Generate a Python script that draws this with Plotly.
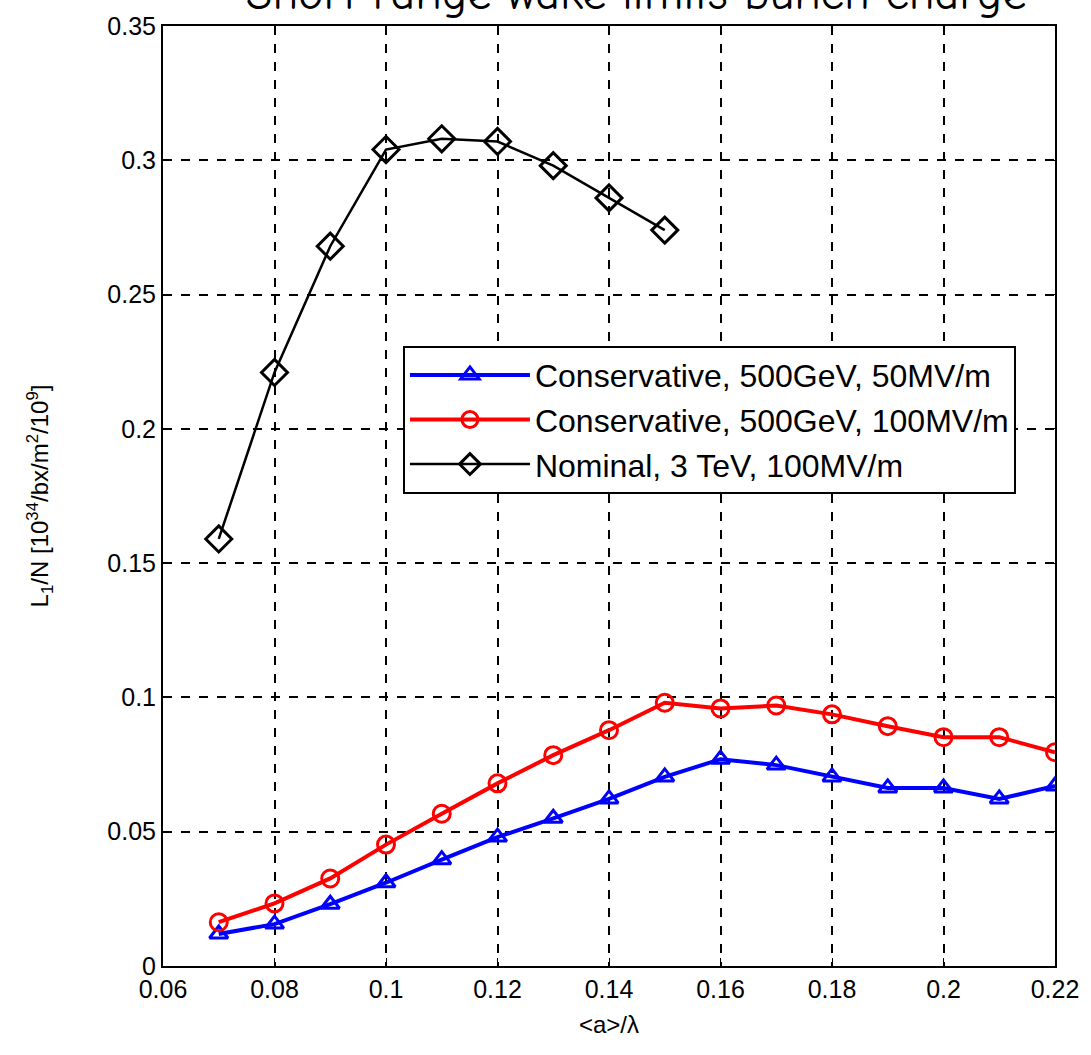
import plotly.graph_objects as go

x_nom = [0.07, 0.08, 0.09, 0.10, 0.11, 0.12, 0.13, 0.14, 0.15]
y_nom = [0.159, 0.221, 0.268, 0.304, 0.308, 0.307, 0.298, 0.286, 0.274]

x_cons = [0.07, 0.08, 0.09, 0.10, 0.11, 0.12, 0.13, 0.14, 0.15, 0.16, 0.17, 0.18, 0.19, 0.20, 0.21, 0.22]
y_c100 = [0.0163, 0.0233, 0.0326, 0.0452, 0.0567, 0.068, 0.0785, 0.0878, 0.098, 0.0959, 0.097, 0.0937, 0.0893, 0.0852, 0.0852, 0.0796]
y_c50 = [0.0119, 0.0156, 0.023, 0.031, 0.0396, 0.048, 0.055, 0.0622, 0.0704, 0.077, 0.0748, 0.0704, 0.0663, 0.0663, 0.0622, 0.067]

x_ticks = [0.06, 0.08, 0.10, 0.12, 0.14, 0.16, 0.18, 0.20, 0.22]
x_ticklabels = ["0.06", "0.08", "0.1", "0.12", "0.14", "0.16", "0.18", "0.2", "0.22"]
y_ticks = [0, 0.05, 0.10, 0.15, 0.20, 0.25, 0.30, 0.35]
y_ticklabels = ["0", "0.05", "0.1", "0.15", "0.2", "0.25", "0.3", "0.35"]

FONT = "Liberation Sans Narrow, Liberation Sans, Arial, sans-serif"

fig = go.Figure()
fig.add_trace(go.Scatter(
    x=x_cons, y=y_c50, mode="lines+markers", name="Conservative, 500GeV, 50MV/m",
    line=dict(color="#0000ff", width=4),
    marker=dict(symbol="triangle-up-open", size=16, color="#0000ff", line=dict(width=3))))
fig.add_trace(go.Scatter(
    x=x_cons, y=y_c100, mode="lines+markers", name="Conservative, 500GeV, 100MV/m",
    line=dict(color="#ff0000", width=4),
    marker=dict(symbol="circle-open", size=17, color="#ff0000", line=dict(width=3))))
fig.add_trace(go.Scatter(
    x=x_nom, y=y_nom, mode="lines+markers", name="Nominal, 3 TeV, 100MV/m",
    line=dict(color="#000000", width=2.5),
    marker=dict(symbol="diamond-open", size=20, color="#000000", line=dict(width=3))))

axis_common = dict(
    showline=True, linecolor="black", linewidth=2, mirror="ticks",
    ticks="inside", ticklen=8, tickcolor="black",
    showgrid=True, gridcolor="black", griddash="dash", gridwidth=1.5,
    zeroline=False, tickfont=dict(family=FONT, size=25, color="black"),
)

fig.update_xaxes(range=[0.06, 0.22], tickvals=x_ticks, ticktext=x_ticklabels,
                 title=dict(text="&lt;a&gt;/λ", font=dict(family=FONT, size=24, color="black"), standoff=14),
                 **axis_common)
fig.update_yaxes(range=[0, 0.35], tickvals=y_ticks, ticktext=y_ticklabels,
                 title=dict(text="L<sub>1</sub>/N [10<sup>34</sup>/bx/m<sup>2</sup>/10<sup>9</sup>]",
                            font=dict(family=FONT, size=24, color="black"), standoff=52),
                 **axis_common)

fig.add_annotation(text="Short range wake limits bunch charge", xref="paper", yref="paper",
                   x=0.53, y=1, xanchor="center", yanchor="bottom", yshift=3, showarrow=False,
                   font=dict(family="Comic Neue, Comic Sans MS, DejaVu Sans, sans-serif", size=48, color="black"))

fig.update_layout(
    width=1091, height=1055,
    margin=dict(l=163, r=30, t=22, b=89),
    plot_bgcolor="white", paper_bgcolor="white",
    legend=dict(x=0.269, y=0.66, xanchor="left", yanchor="top",
                bgcolor="white", bordercolor="black", borderwidth=2,
                font=dict(family=FONT, size=32, color="black"),
                itemwidth=120, tracegroupgap=0),
    font=dict(family=FONT, color="black"),
)

fig.write_html("out.html")
